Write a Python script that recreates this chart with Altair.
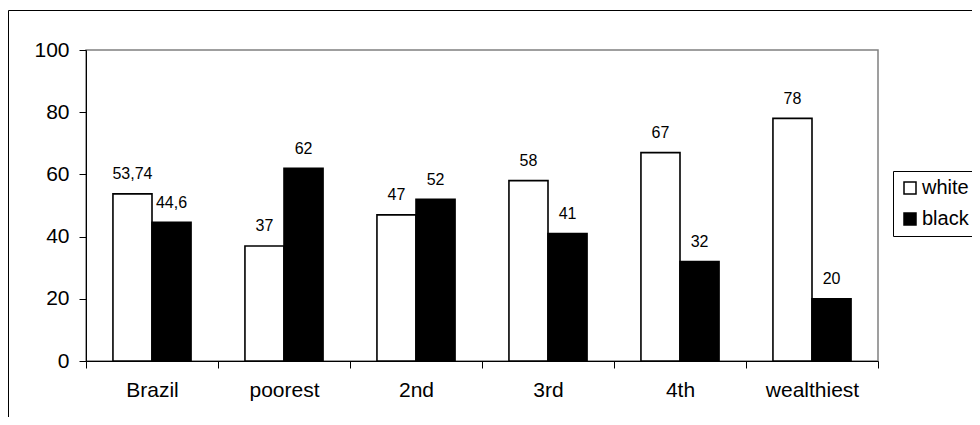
import altair as alt
import pandas as pd

categories = ["Brazil", "poorest", "2nd", "3rd", "4th", "wealthiest"]
white = [53.74, 37, 47, 58, 67, 78]
black = [44.6, 62, 52, 41, 32, 20]
white_labels = ["53,74", "37", "47", "58", "67", "78"]
black_labels = ["44,6", "62", "52", "41", "32", "20"]
races = ["white", "black"]
y_ticks = [0, 20, 40, 60, 80, 100]

rows = []
for i, c in enumerate(categories):
    rows.append({"category": c, "race": "white", "value": white[i], "label": white_labels[i]})
    rows.append({"category": c, "race": "black", "value": black[i], "label": black_labels[i]})
df = pd.DataFrame(rows)

FONT = "Liberation Sans"

base = alt.Chart(df).encode(
    x=alt.X("category:N", sort=categories,
            scale=alt.Scale(paddingInner=0, paddingOuter=0),
            axis=alt.Axis(title=None, labelAngle=0, tickBand="extent", tickSize=7,
                          tickColor="black", domainColor="black", labelColor="black",
                          labelFont=FONT, labelFontSize=21, labelPadding=11, grid=False)),
    xOffset=alt.XOffset("race:N", sort=races,
                        scale=alt.Scale(paddingInner=0, paddingOuter=0.69)),
    y=alt.Y("value:Q", scale=alt.Scale(domain=[0, 100], nice=False),
            axis=alt.Axis(title=None, values=y_ticks, tickSize=7, tickColor="black",
                          domainColor="black", labelColor="black", labelFont=FONT,
                          labelFontSize=21, labelPadding=10, grid=False)),
)

bars = base.mark_bar(stroke="black", strokeWidth=1.6).encode(
    fill=alt.Fill("race:N", sort=races,
                  scale=alt.Scale(domain=races, range=["white", "black"]),
                  legend=alt.Legend(title=None, orient="none", legendX=807, legendY=121,
                                    strokeColor="black", fillColor="white", padding=7,
                                    symbolType="square", symbolSize=144,
                                    symbolStrokeColor="black", symbolStrokeWidth=1.5,
                                    labelFont=FONT, labelFontSize=20, labelColor="black",
                                    labelOffset=2, rowPadding=11))
)

text = base.mark_text(dy=-14.5, baseline="alphabetic", font=FONT, fontSize=16,
                      color="black").encode(text="label:N")

frame = alt.Chart(pd.DataFrame({"a": [0]})).mark_rect(
    filled=False, stroke="black", strokeWidth=1
).encode(x=alt.value(-77.5), x2=alt.value(1000), y=alt.value(-39.5), y2=alt.value(500))

chart = alt.layer(frame, bars, text).properties(
    width=792, height=311,
    padding={"left": 78, "top": 42, "right": 94, "bottom": 56},
    autosize="none",
).configure_view(stroke="#808080", strokeWidth=1.5)

chart.save("out.html", embed_options={"renderer": "svg", "actions": False})
